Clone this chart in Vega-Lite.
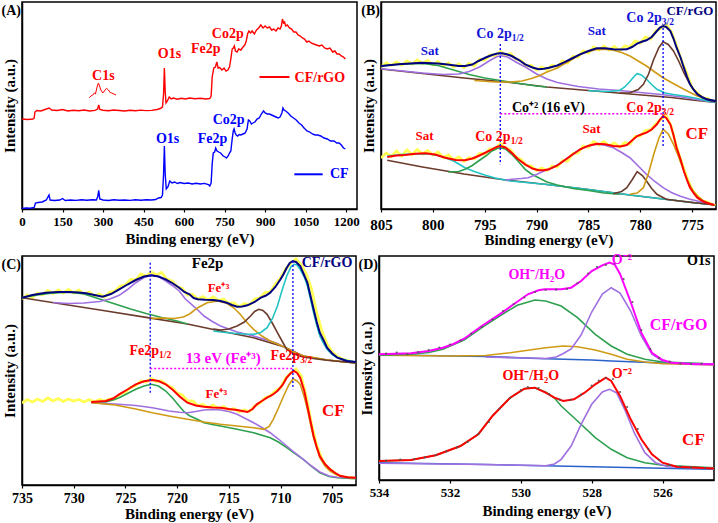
{
"$schema":"https://vega.github.io/schema/vega-lite/v6.json",
"padding":{"left":0,"top":1,"right":0,"bottom":0},
"background":"white",
"config":{
 "view":{"stroke":"#000","strokeWidth":1.5},
 "axis":{"domainColor":"#000","domainWidth":1.5,"tickColor":"#000","tickWidth":1.2,"grid":false,"labelFont":"Liberation Serif","labelFontWeight":"bold","labelColor":"#000","titleFont":"Liberation Serif","titleFontWeight":"bold","titleColor":"#000","labelFlush":false,"labelOverlap":false},
 "text":{"font":"Liberation Serif","fontWeight":"bold"}
},
"resolve":{"scale":{"color":"independent"}},
"spacing":4,
"datasets":{
"A":[
{"x":0,"y":90,"s":"CF/rGO"},{"x":20,"y":89.5,"s":"CF/rGO"},{"x":40,"y":90,"s":"CF/rGO"},{"x":45,"y":91,"s":"CF/rGO"},{"x":48,"y":97,"s":"CF/rGO"},{"x":55,"y":98.5,"s":"CF/rGO"},{"x":70,"y":98,"s":"CF/rGO"},{"x":85,"y":99.5,"s":"CF/rGO"},{"x":100,"y":101,"s":"CF/rGO"},{"x":110,"y":99,"s":"CF/rGO"},{"x":130,"y":98.5,"s":"CF/rGO"},{"x":150,"y":99.5,"s":"CF/rGO"},{"x":170,"y":98,"s":"CF/rGO"},{"x":190,"y":98.7,"s":"CF/rGO"},{"x":210,"y":98.2,"s":"CF/rGO"},{"x":230,"y":99,"s":"CF/rGO"},{"x":250,"y":98,"s":"CF/rGO"},{"x":270,"y":98.6,"s":"CF/rGO"},{"x":280,"y":100,"s":"CF/rGO"},{"x":284,"y":104,"s":"CF/rGO"},{"x":288,"y":99.5,"s":"CF/rGO"},{"x":300,"y":98.8,"s":"CF/rGO"},{"x":320,"y":98.2,"s":"CF/rGO"},{"x":340,"y":99,"s":"CF/rGO"},{"x":360,"y":98.5,"s":"CF/rGO"},{"x":380,"y":98,"s":"CF/rGO"},{"x":400,"y":98.8,"s":"CF/rGO"},{"x":420,"y":98.3,"s":"CF/rGO"},{"x":440,"y":98.9,"s":"CF/rGO"},{"x":460,"y":98.4,"s":"CF/rGO"},{"x":480,"y":98.6,"s":"CF/rGO"},{"x":500,"y":99.5,"s":"CF/rGO"},{"x":512,"y":100.5,"s":"CF/rGO"},{"x":520,"y":102,"s":"CF/rGO"},{"x":524,"y":115,"s":"CF/rGO"},{"x":527,"y":141,"s":"CF/rGO"},{"x":530,"y":118,"s":"CF/rGO"},{"x":533,"y":106,"s":"CF/rGO"},{"x":538,"y":108,"s":"CF/rGO"},{"x":545,"y":112,"s":"CF/rGO"},{"x":552,"y":110,"s":"CF/rGO"},{"x":560,"y":111,"s":"CF/rGO"},{"x":575,"y":109.8,"s":"CF/rGO"},{"x":590,"y":110.8,"s":"CF/rGO"},{"x":605,"y":110,"s":"CF/rGO"},{"x":620,"y":111,"s":"CF/rGO"},{"x":640,"y":110.2,"s":"CF/rGO"},{"x":660,"y":110.8,"s":"CF/rGO"},{"x":680,"y":110,"s":"CF/rGO"},{"x":695,"y":110.5,"s":"CF/rGO"},{"x":700,"y":113,"s":"CF/rGO"},{"x":704,"y":132,"s":"CF/rGO"},{"x":710,"y":141,"s":"CF/rGO"},{"x":716,"y":142,"s":"CF/rGO"},{"x":721,"y":147,"s":"CF/rGO"},{"x":726,"y":141,"s":"CF/rGO"},{"x":732,"y":141.5,"s":"CF/rGO"},{"x":740,"y":139,"s":"CF/rGO"},{"x":748,"y":141,"s":"CF/rGO"},{"x":755,"y":138,"s":"CF/rGO"},{"x":762,"y":139,"s":"CF/rGO"},{"x":768,"y":142,"s":"CF/rGO"},{"x":773,"y":150,"s":"CF/rGO"},{"x":778,"y":160,"s":"CF/rGO"},{"x":782,"y":161,"s":"CF/rGO"},{"x":786,"y":163,"s":"CF/rGO"},{"x":790,"y":158,"s":"CF/rGO"},{"x":796,"y":157,"s":"CF/rGO"},{"x":802,"y":160,"s":"CF/rGO"},{"x":810,"y":159,"s":"CF/rGO"},{"x":818,"y":162,"s":"CF/rGO"},{"x":825,"y":164,"s":"CF/rGO"},{"x":830,"y":168,"s":"CF/rGO"},{"x":835,"y":175,"s":"CF/rGO"},{"x":840,"y":178,"s":"CF/rGO"},{"x":846,"y":176,"s":"CF/rGO"},{"x":852,"y":178,"s":"CF/rGO"},{"x":860,"y":175,"s":"CF/rGO"},{"x":868,"y":179,"s":"CF/rGO"},{"x":876,"y":181,"s":"CF/rGO"},{"x":884,"y":184,"s":"CF/rGO"},{"x":892,"y":181,"s":"CF/rGO"},{"x":900,"y":183,"s":"CF/rGO"},{"x":908,"y":181,"s":"CF/rGO"},{"x":916,"y":182,"s":"CF/rGO"},{"x":924,"y":179,"s":"CF/rGO"},{"x":932,"y":180,"s":"CF/rGO"},{"x":940,"y":178,"s":"CF/rGO"},{"x":948,"y":181,"s":"CF/rGO"},{"x":955,"y":180,"s":"CF/rGO"},{"x":960,"y":183,"s":"CF/rGO"},{"x":964,"y":190,"s":"CF/rGO"},{"x":968,"y":186,"s":"CF/rGO"},{"x":972,"y":187,"s":"CF/rGO"},{"x":976,"y":183,"s":"CF/rGO"},{"x":982,"y":184,"s":"CF/rGO"},{"x":990,"y":181,"s":"CF/rGO"},{"x":998,"y":180,"s":"CF/rGO"},{"x":1006,"y":177,"s":"CF/rGO"},{"x":1014,"y":177,"s":"CF/rGO"},{"x":1022,"y":174,"s":"CF/rGO"},{"x":1030,"y":173,"s":"CF/rGO"},{"x":1038,"y":171,"s":"CF/rGO"},{"x":1046,"y":170,"s":"CF/rGO"},{"x":1054,"y":167,"s":"CF/rGO"},{"x":1062,"y":168,"s":"CF/rGO"},{"x":1070,"y":166,"s":"CF/rGO"},{"x":1080,"y":165,"s":"CF/rGO"},{"x":1090,"y":164,"s":"CF/rGO"},{"x":1100,"y":163,"s":"CF/rGO"},{"x":1110,"y":164,"s":"CF/rGO"},{"x":1120,"y":161,"s":"CF/rGO"},{"x":1130,"y":160,"s":"CF/rGO"},{"x":1140,"y":161,"s":"CF/rGO"},{"x":1150,"y":157,"s":"CF/rGO"},{"x":1158,"y":158,"s":"CF/rGO"},{"x":1166,"y":155,"s":"CF/rGO"},{"x":1174,"y":155,"s":"CF/rGO"},{"x":1182,"y":153,"s":"CF/rGO"},{"x":1190,"y":152,"s":"CF/rGO"},{"x":1197,"y":150,"s":"CF/rGO"},
{"x":0,"y":0.5,"s":"CF"},{"x":15,"y":1,"s":"CF"},{"x":30,"y":0.8,"s":"CF"},{"x":45,"y":1.5,"s":"CF"},{"x":50,"y":6,"s":"CF"},{"x":60,"y":6.5,"s":"CF"},{"x":75,"y":7,"s":"CF"},{"x":90,"y":9,"s":"CF"},{"x":100,"y":14,"s":"CF"},{"x":104,"y":9,"s":"CF"},{"x":120,"y":8.5,"s":"CF"},{"x":140,"y":9,"s":"CF"},{"x":150,"y":10.5,"s":"CF"},{"x":160,"y":8.5,"s":"CF"},{"x":180,"y":9,"s":"CF"},{"x":200,"y":8.6,"s":"CF"},{"x":220,"y":9.2,"s":"CF"},{"x":240,"y":8.7,"s":"CF"},{"x":260,"y":9.2,"s":"CF"},{"x":275,"y":9,"s":"CF"},{"x":280,"y":12,"s":"CF"},{"x":284,"y":18.7,"s":"CF"},{"x":288,"y":10,"s":"CF"},{"x":300,"y":9,"s":"CF"},{"x":320,"y":8.5,"s":"CF"},{"x":340,"y":9.3,"s":"CF"},{"x":360,"y":8.7,"s":"CF"},{"x":380,"y":9,"s":"CF"},{"x":400,"y":8.6,"s":"CF"},{"x":420,"y":9.2,"s":"CF"},{"x":440,"y":8.8,"s":"CF"},{"x":460,"y":9.3,"s":"CF"},{"x":480,"y":9,"s":"CF"},{"x":495,"y":9.5,"s":"CF"},{"x":505,"y":11,"s":"CF"},{"x":515,"y":11.5,"s":"CF"},{"x":520,"y":14,"s":"CF"},{"x":524,"y":35,"s":"CF"},{"x":527,"y":63,"s":"CF"},{"x":530,"y":35,"s":"CF"},{"x":534,"y":20,"s":"CF"},{"x":540,"y":22,"s":"CF"},{"x":547,"y":28,"s":"CF"},{"x":555,"y":26,"s":"CF"},{"x":565,"y":27,"s":"CF"},{"x":575,"y":25.5,"s":"CF"},{"x":585,"y":26.5,"s":"CF"},{"x":600,"y":25.5,"s":"CF"},{"x":615,"y":26,"s":"CF"},{"x":630,"y":25,"s":"CF"},{"x":645,"y":25.8,"s":"CF"},{"x":660,"y":25,"s":"CF"},{"x":675,"y":25.6,"s":"CF"},{"x":690,"y":24.5,"s":"CF"},{"x":695,"y":23,"s":"CF"},{"x":700,"y":26,"s":"CF"},{"x":704,"y":45,"s":"CF"},{"x":708,"y":56,"s":"CF"},{"x":713,"y":57,"s":"CF"},{"x":717,"y":61,"s":"CF"},{"x":722,"y":58,"s":"CF"},{"x":728,"y":57,"s":"CF"},{"x":735,"y":56,"s":"CF"},{"x":745,"y":53,"s":"CF"},{"x":752,"y":52,"s":"CF"},{"x":757,"y":51,"s":"CF"},{"x":763,"y":53,"s":"CF"},{"x":768,"y":56,"s":"CF"},{"x":773,"y":58,"s":"CF"},{"x":778,"y":70,"s":"CF"},{"x":782,"y":78,"s":"CF"},{"x":785,"y":80,"s":"CF"},{"x":789,"y":76,"s":"CF"},{"x":793,"y":74,"s":"CF"},{"x":798,"y":73,"s":"CF"},{"x":804,"y":74.5,"s":"CF"},{"x":810,"y":74,"s":"CF"},{"x":818,"y":75,"s":"CF"},{"x":826,"y":76,"s":"CF"},{"x":833,"y":80,"s":"CF"},{"x":838,"y":89,"s":"CF"},{"x":843,"y":88,"s":"CF"},{"x":849,"y":85,"s":"CF"},{"x":855,"y":86,"s":"CF"},{"x":862,"y":87,"s":"CF"},{"x":870,"y":90,"s":"CF"},{"x":878,"y":91,"s":"CF"},{"x":886,"y":95,"s":"CF"},{"x":894,"y":98,"s":"CF"},{"x":900,"y":96,"s":"CF"},{"x":908,"y":95,"s":"CF"},{"x":916,"y":95,"s":"CF"},{"x":924,"y":94,"s":"CF"},{"x":932,"y":93,"s":"CF"},{"x":940,"y":92,"s":"CF"},{"x":948,"y":91,"s":"CF"},{"x":955,"y":92,"s":"CF"},{"x":962,"y":96,"s":"CF"},{"x":966,"y":101,"s":"CF"},{"x":970,"y":99,"s":"CF"},{"x":976,"y":98,"s":"CF"},{"x":985,"y":96,"s":"CF"},{"x":995,"y":93,"s":"CF"},{"x":1005,"y":91,"s":"CF"},{"x":1015,"y":89,"s":"CF"},{"x":1025,"y":86,"s":"CF"},{"x":1035,"y":84,"s":"CF"},{"x":1044,"y":81,"s":"CF"},{"x":1055,"y":78,"s":"CF"},{"x":1065,"y":77,"s":"CF"},{"x":1075,"y":75,"s":"CF"},{"x":1085,"y":74,"s":"CF"},{"x":1095,"y":74,"s":"CF"},{"x":1106,"y":73,"s":"CF"},{"x":1118,"y":71,"s":"CF"},{"x":1130,"y":70,"s":"CF"},{"x":1142,"y":68,"s":"CF"},{"x":1155,"y":68,"s":"CF"},{"x":1165,"y":66,"s":"CF"},{"x":1174,"y":66,"s":"CF"},{"x":1182,"y":64,"s":"CF"},{"x":1190,"y":61,"s":"CF"},{"x":1197,"y":60,"s":"CF"},
{"x":249,"y":111.3,"s":"C1s"},{"x":255,"y":113,"s":"C1s"},{"x":262,"y":114,"s":"C1s"},{"x":268,"y":116,"s":"C1s"},{"x":272,"y":115,"s":"C1s"},{"x":276,"y":120,"s":"C1s"},{"x":280,"y":124,"s":"C1s"},{"x":283,"y":126,"s":"C1s"},{"x":287,"y":123,"s":"C1s"},{"x":292,"y":119,"s":"C1s"},{"x":299,"y":116,"s":"C1s"},{"x":305,"y":118,"s":"C1s"},{"x":313,"y":120.7,"s":"C1s"},{"x":320,"y":119,"s":"C1s"},{"x":326,"y":116.5,"s":"C1s"},{"x":332,"y":116,"s":"C1s"},{"x":340,"y":115,"s":"C1s"},{"x":348,"y":114,"s":"C1s"},
{"x":879,"y":132,"s":"legR"},{"x":990,"y":132,"s":"legR"},{"x":1008,"y":34.7,"s":"legB"},{"x":1113,"y":34.7,"s":"legB"}
],
"B":[
{"x":805,"y":140,"s":"rGO bg"},{"x":801,"y":135.5,"s":"rGO bg"},{"x":797,"y":131,"s":"rGO bg"},{"x":793,"y":127,"s":"rGO bg"},{"x":789,"y":122,"s":"rGO bg"},{"x":785,"y":118.5,"s":"rGO bg"},{"x":781,"y":115,"s":"rGO bg"},{"x":777,"y":111.5,"s":"rGO bg"},{"x":775,"y":109,"s":"rGO bg"},{"x":772.7,"y":106.5,"s":"rGO bg"},
{"x":805,"y":143,"s":"rGO sat1"},{"x":803.5,"y":144.5,"s":"rGO sat1"},{"x":802,"y":145.3,"s":"rGO sat1"},{"x":801,"y":145.5,"s":"rGO sat1"},{"x":799.5,"y":143.5,"s":"rGO sat1"},{"x":798,"y":139,"s":"rGO sat1"},{"x":796.5,"y":134.5,"s":"rGO sat1"},{"x":795,"y":131,"s":"rGO sat1"},{"x":793.5,"y":128.5,"s":"rGO sat1"},{"x":792,"y":126,"s":"rGO sat1"},{"x":790,"y":123,"s":"rGO sat1"},{"x":789,"y":122,"s":"rGO sat1"},
{"x":805,"y":140.3,"s":"rGO p12"},{"x":801,"y":136,"s":"rGO p12"},{"x":799,"y":134.5,"s":"rGO p12"},{"x":797.5,"y":135,"s":"rGO p12"},{"x":796.5,"y":137.5,"s":"rGO p12"},{"x":795.5,"y":142,"s":"rGO p12"},{"x":794.5,"y":148.5,"s":"rGO p12"},{"x":793.8,"y":152.5,"s":"rGO p12"},{"x":793.4,"y":153.2,"s":"rGO p12"},{"x":792.8,"y":152,"s":"rGO p12"},{"x":792,"y":147,"s":"rGO p12"},{"x":791,"y":141.5,"s":"rGO p12"},{"x":790,"y":135,"s":"rGO p12"},{"x":789,"y":130,"s":"rGO p12"},{"x":788,"y":126.5,"s":"rGO p12"},{"x":786,"y":122.5,"s":"rGO p12"},{"x":784,"y":120,"s":"rGO p12"},{"x":782,"y":118.5,"s":"rGO p12"},{"x":780,"y":116.5,"s":"rGO p12"},{"x":778,"y":114.5,"s":"rGO p12"},{"x":776,"y":112,"s":"rGO p12"},{"x":774,"y":108.5,"s":"rGO p12"},{"x":772.7,"y":106.5,"s":"rGO p12"},
{"x":796,"y":128.5,"s":"rGO sat2"},{"x":794,"y":127,"s":"rGO sat2"},{"x":792.5,"y":127,"s":"rGO sat2"},{"x":791.4,"y":128,"s":"rGO sat2"},{"x":790.5,"y":130.5,"s":"rGO sat2"},{"x":789.8,"y":133,"s":"rGO sat2"},{"x":789,"y":137,"s":"rGO sat2"},{"x":788,"y":141,"s":"rGO sat2"},{"x":787.4,"y":144.7,"s":"rGO sat2"},{"x":786.5,"y":150,"s":"rGO sat2"},{"x":785.8,"y":154.7,"s":"rGO sat2"},{"x":785,"y":157.5,"s":"rGO sat2"},{"x":784.2,"y":159.5,"s":"rGO sat2"},{"x":783.4,"y":159.7,"s":"rGO sat2"},{"x":782.6,"y":158.7,"s":"rGO sat2"},{"x":781.8,"y":156.5,"s":"rGO sat2"},{"x":781,"y":153,"s":"rGO sat2"},{"x":780.2,"y":148,"s":"rGO sat2"},{"x":779.4,"y":143,"s":"rGO sat2"},{"x":778.6,"y":137,"s":"rGO sat2"},{"x":777.8,"y":131.3,"s":"rGO sat2"},{"x":777,"y":126.5,"s":"rGO sat2"},{"x":776.2,"y":122,"s":"rGO sat2"},{"x":775.3,"y":117,"s":"rGO sat2"},{"x":774.5,"y":113,"s":"rGO sat2"},{"x":773.6,"y":110,"s":"rGO sat2"},{"x":772.7,"y":108,"s":"rGO sat2"},
{"x":785,"y":118.3,"s":"rGO c780"},{"x":783,"y":117.5,"s":"rGO c780"},{"x":782,"y":118.5,"s":"rGO c780"},{"x":781.5,"y":122,"s":"rGO c780"},{"x":781,"y":127.5,"s":"rGO c780"},{"x":780.6,"y":132.5,"s":"rGO c780"},{"x":780.3,"y":135.3,"s":"rGO c780"},{"x":779.9,"y":134,"s":"rGO c780"},{"x":779.4,"y":129.7,"s":"rGO c780"},{"x":778.9,"y":124.5,"s":"rGO c780"},{"x":778.4,"y":119.7,"s":"rGO c780"},{"x":777.6,"y":116,"s":"rGO c780"},{"x":776.8,"y":114.5,"s":"rGO c780"},{"x":775.5,"y":112.5,"s":"rGO c780"},{"x":774.5,"y":110.5,"s":"rGO c780"},{"x":773.5,"y":108,"s":"rGO c780"},{"x":772.7,"y":106.5,"s":"rGO c780"},
{"x":782,"y":116,"s":"rGO p32"},{"x":781,"y":116.3,"s":"rGO p32"},{"x":780.2,"y":119.5,"s":"rGO p32"},{"x":779.7,"y":124.7,"s":"rGO p32"},{"x":779.2,"y":135,"s":"rGO p32"},{"x":778.7,"y":149.7,"s":"rGO p32"},{"x":778.2,"y":161.5,"s":"rGO p32"},{"x":777.8,"y":167.3,"s":"rGO p32"},{"x":777.3,"y":164.5,"s":"rGO p32"},{"x":776.8,"y":158,"s":"rGO p32"},{"x":776.3,"y":148,"s":"rGO p32"},{"x":775.8,"y":136.3,"s":"rGO p32"},{"x":775.3,"y":126.5,"s":"rGO p32"},{"x":774.9,"y":119.7,"s":"rGO p32"},{"x":774.4,"y":114.5,"s":"rGO p32"},{"x":773.9,"y":111.3,"s":"rGO p32"},{"x":773.3,"y":108.5,"s":"rGO p32"},{"x":772.7,"y":107,"s":"rGO p32"},
{"x":805,"y":143,"s":"rGO fit"},{"x":803.3,"y":144.7,"s":"rGO fit"},{"x":801.1,"y":146.3,"s":"rGO fit"},{"x":799.5,"y":145.5,"s":"rGO fit"},{"x":798.8,"y":144.7,"s":"rGO fit"},{"x":797.5,"y":143,"s":"rGO fit"},{"x":796.9,"y":143,"s":"rGO fit"},{"x":796.2,"y":144.5,"s":"rGO fit"},{"x":795.6,"y":148,"s":"rGO fit"},{"x":794.9,"y":151.5,"s":"rGO fit"},{"x":794.3,"y":154,"s":"rGO fit"},{"x":793.8,"y":155.5,"s":"rGO fit"},{"x":793.3,"y":155.7,"s":"rGO fit"},{"x":792.8,"y":154.5,"s":"rGO fit"},{"x":792.4,"y":153,"s":"rGO fit"},{"x":791.7,"y":149,"s":"rGO fit"},{"x":791.1,"y":144.7,"s":"rGO fit"},{"x":790.4,"y":141.5,"s":"rGO fit"},{"x":789.8,"y":139.7,"s":"rGO fit"},{"x":789.3,"y":140.2,"s":"rGO fit"},{"x":788.8,"y":141.3,"s":"rGO fit"},{"x":788,"y":143.5,"s":"rGO fit"},{"x":787.4,"y":146.3,"s":"rGO fit"},{"x":786.6,"y":150.5,"s":"rGO fit"},{"x":785.8,"y":154.7,"s":"rGO fit"},{"x":785,"y":158,"s":"rGO fit"},{"x":784.2,"y":160.7,"s":"rGO fit"},{"x":783.4,"y":160.8,"s":"rGO fit"},{"x":782.6,"y":159.7,"s":"rGO fit"},{"x":781.9,"y":159.5,"s":"rGO fit"},{"x":781.3,"y":159.7,"s":"rGO fit"},{"x":780.8,"y":162,"s":"rGO fit"},{"x":780.3,"y":165.3,"s":"rGO fit"},{"x":779.8,"y":167.5,"s":"rGO fit"},{"x":779.4,"y":168.7,"s":"rGO fit"},{"x":778.9,"y":172,"s":"rGO fit"},{"x":778.4,"y":178,"s":"rGO fit"},{"x":778.1,"y":181.5,"s":"rGO fit"},{"x":777.8,"y":183,"s":"rGO fit"},{"x":777.5,"y":182,"s":"rGO fit"},{"x":777.1,"y":178,"s":"rGO fit"},{"x":776.8,"y":170.5,"s":"rGO fit"},{"x":776.5,"y":161.3,"s":"rGO fit"},{"x":776.1,"y":151,"s":"rGO fit"},{"x":775.8,"y":141.3,"s":"rGO fit"},{"x":775.5,"y":132.5,"s":"rGO fit"},{"x":775.2,"y":124.7,"s":"rGO fit"},{"x":774.8,"y":118.5,"s":"rGO fit"},{"x":774.5,"y":114.7,"s":"rGO fit"},{"x":774,"y":111.5,"s":"rGO fit"},{"x":773.6,"y":109.7,"s":"rGO fit"},{"x":772.7,"y":108,"s":"rGO fit"},
{"x":805,"y":142,"s":"rGO raw"},{"x":804.5,"y":146,"s":"rGO raw"},{"x":804,"y":143.5,"s":"rGO raw"},{"x":803.5,"y":147,"s":"rGO raw"},{"x":803,"y":144,"s":"rGO raw"},{"x":802.5,"y":148,"s":"rGO raw"},{"x":802,"y":145,"s":"rGO raw"},{"x":801.5,"y":149,"s":"rGO raw"},{"x":801,"y":145.5,"s":"rGO raw"},{"x":800.5,"y":148.5,"s":"rGO raw"},{"x":800,"y":144,"s":"rGO raw"},{"x":799.5,"y":147.5,"s":"rGO raw"},{"x":799,"y":143,"s":"rGO raw"},{"x":798.5,"y":146,"s":"rGO raw"},{"x":798,"y":142,"s":"rGO raw"},{"x":797.5,"y":145,"s":"rGO raw"},{"x":797,"y":141.5,"s":"rGO raw"},{"x":796.5,"y":145.5,"s":"rGO raw"},{"x":796,"y":143,"s":"rGO raw"},{"x":795.5,"y":149.5,"s":"rGO raw"},{"x":795,"y":149,"s":"rGO raw"},{"x":794.5,"y":154,"s":"rGO raw"},{"x":794,"y":153.5,"s":"rGO raw"},{"x":793.5,"y":157.5,"s":"rGO raw"},{"x":793,"y":154,"s":"rGO raw"},{"x":792.5,"y":155.5,"s":"rGO raw"},{"x":792,"y":150,"s":"rGO raw"},{"x":791.5,"y":148.5,"s":"rGO raw"},{"x":791,"y":143,"s":"rGO raw"},{"x":790.5,"y":143.5,"s":"rGO raw"},{"x":790,"y":139,"s":"rGO raw"},{"x":789.5,"y":142,"s":"rGO raw"},{"x":789,"y":139.5,"s":"rGO raw"},{"x":788.5,"y":144,"s":"rGO raw"},{"x":788,"y":142,"s":"rGO raw"},{"x":787.5,"y":148,"s":"rGO raw"},{"x":787,"y":146,"s":"rGO raw"},{"x":786.5,"y":152.5,"s":"rGO raw"},{"x":786,"y":152,"s":"rGO raw"},{"x":785.5,"y":158,"s":"rGO raw"},{"x":785,"y":156,"s":"rGO raw"},{"x":784.5,"y":162,"s":"rGO raw"},{"x":784,"y":159,"s":"rGO raw"},{"x":783.5,"y":163,"s":"rGO raw"},{"x":783,"y":159,"s":"rGO raw"},{"x":782.5,"y":162.5,"s":"rGO raw"},{"x":782,"y":158.5,"s":"rGO raw"},{"x":781.5,"y":163,"s":"rGO raw"},{"x":781,"y":162,"s":"rGO raw"},{"x":780.5,"y":168,"s":"rGO raw"},{"x":780,"y":166,"s":"rGO raw"},{"x":779.5,"y":172,"s":"rGO raw"},{"x":779,"y":170,"s":"rGO raw"},{"x":778.5,"y":178,"s":"rGO raw"},{"x":778,"y":181,"s":"rGO raw"},{"x":777.5,"y":184.5,"s":"rGO raw"},{"x":777,"y":177,"s":"rGO raw"},{"x":776.5,"y":163,"s":"rGO raw"},{"x":776,"y":148,"s":"rGO raw"},{"x":775.5,"y":135,"s":"rGO raw"},{"x":775,"y":121,"s":"rGO raw"},{"x":774.5,"y":116,"s":"rGO raw"},{"x":774,"y":111,"s":"rGO raw"},{"x":773.5,"y":110.5,"s":"rGO raw"},{"x":773,"y":107.5,"s":"rGO raw"},
{"x":804.4,"y":48.7,"s":"CF bg"},{"x":801,"y":42,"s":"CF bg"},{"x":797,"y":35,"s":"CF bg"},{"x":793,"y":29,"s":"CF bg"},{"x":789,"y":24.5,"s":"CF bg"},{"x":785,"y":19.5,"s":"CF bg"},{"x":781,"y":14,"s":"CF bg"},{"x":777,"y":9,"s":"CF bg"},{"x":775,"y":6.5,"s":"CF bg"},{"x":772.7,"y":4,"s":"CF bg"},
{"x":804.4,"y":53,"s":"CF sat1"},{"x":803,"y":54.5,"s":"CF sat1"},{"x":802,"y":55,"s":"CF sat1"},{"x":801,"y":55.2,"s":"CF sat1"},{"x":800.4,"y":55,"s":"CF sat1"},{"x":799.5,"y":53.5,"s":"CF sat1"},{"x":798.8,"y":51.3,"s":"CF sat1"},{"x":798,"y":48,"s":"CF sat1"},{"x":797.5,"y":45,"s":"CF sat1"},{"x":796.9,"y":41.3,"s":"CF sat1"},{"x":796,"y":37.5,"s":"CF sat1"},{"x":795,"y":34,"s":"CF sat1"},{"x":794,"y":31,"s":"CF sat1"},{"x":792.5,"y":28,"s":"CF sat1"},{"x":791,"y":26.5,"s":"CF sat1"},{"x":789,"y":24.5,"s":"CF sat1"},{"x":785,"y":19.5,"s":"CF sat1"},{"x":781,"y":14,"s":"CF sat1"},{"x":777,"y":9,"s":"CF sat1"},{"x":775,"y":6.5,"s":"CF sat1"},{"x":772.7,"y":4,"s":"CF sat1"},
{"x":798.5,"y":37,"s":"CF p12"},{"x":797.5,"y":37.5,"s":"CF p12"},{"x":796.9,"y":39.7,"s":"CF p12"},{"x":796.2,"y":43.5,"s":"CF p12"},{"x":795.6,"y":48,"s":"CF p12"},{"x":794.9,"y":53,"s":"CF p12"},{"x":794.3,"y":58,"s":"CF p12"},{"x":793.8,"y":60.5,"s":"CF p12"},{"x":793.5,"y":61.3,"s":"CF p12"},{"x":793,"y":60,"s":"CF p12"},{"x":792.4,"y":54.7,"s":"CF p12"},{"x":791.8,"y":48,"s":"CF p12"},{"x":791.1,"y":39.7,"s":"CF p12"},{"x":790.5,"y":35,"s":"CF p12"},{"x":789.8,"y":31.3,"s":"CF p12"},{"x":789,"y":27,"s":"CF p12"},{"x":788,"y":24,"s":"CF p12"},{"x":786.5,"y":20.5,"s":"CF p12"},{"x":785,"y":18.5,"s":"CF p12"},{"x":783.5,"y":16,"s":"CF p12"},{"x":782,"y":14.8,"s":"CF p12"},
{"x":793,"y":29,"s":"CF sat2"},{"x":792.4,"y":29.7,"s":"CF sat2"},{"x":791.5,"y":30.5,"s":"CF sat2"},{"x":790.8,"y":31.3,"s":"CF sat2"},{"x":790,"y":34.5,"s":"CF sat2"},{"x":789.3,"y":38,"s":"CF sat2"},{"x":788.8,"y":39.7,"s":"CF sat2"},{"x":788,"y":44,"s":"CF sat2"},{"x":787.4,"y":48,"s":"CF sat2"},{"x":786.6,"y":54,"s":"CF sat2"},{"x":785.8,"y":59.7,"s":"CF sat2"},{"x":785,"y":63,"s":"CF sat2"},{"x":784.2,"y":64.7,"s":"CF sat2"},{"x":783.4,"y":63.8,"s":"CF sat2"},{"x":782.6,"y":61.3,"s":"CF sat2"},{"x":781.8,"y":56.5,"s":"CF sat2"},{"x":781,"y":51.3,"s":"CF sat2"},{"x":780.2,"y":43,"s":"CF sat2"},{"x":779.4,"y":34.7,"s":"CF sat2"},{"x":778.6,"y":27.5,"s":"CF sat2"},{"x":777.8,"y":21.3,"s":"CF sat2"},{"x":777,"y":16.5,"s":"CF sat2"},{"x":776.2,"y":13,"s":"CF sat2"},{"x":775.3,"y":10,"s":"CF sat2"},{"x":774.5,"y":8,"s":"CF sat2"},{"x":773.6,"y":5.5,"s":"CF sat2"},{"x":772.7,"y":4,"s":"CF sat2"},
{"x":782.6,"y":15.3,"s":"CF c780"},{"x":781.8,"y":17.5,"s":"CF c780"},{"x":781.3,"y":21.3,"s":"CF c780"},{"x":780.8,"y":29,"s":"CF c780"},{"x":780.3,"y":37.3,"s":"CF c780"},{"x":779.8,"y":33.5,"s":"CF c780"},{"x":779.4,"y":28,"s":"CF c780"},{"x":778.9,"y":20.5,"s":"CF c780"},{"x":778.4,"y":14.7,"s":"CF c780"},{"x":777.5,"y":9.7,"s":"CF c780"},{"x":776.2,"y":8,"s":"CF c780"},{"x":775,"y":6.5,"s":"CF c780"},{"x":772.7,"y":4,"s":"CF c780"},
{"x":781,"y":14.7,"s":"CF p32"},{"x":780.3,"y":16,"s":"CF p32"},{"x":779.7,"y":21.3,"s":"CF p32"},{"x":779.2,"y":36,"s":"CF p32"},{"x":778.7,"y":54.7,"s":"CF p32"},{"x":778.2,"y":71,"s":"CF p32"},{"x":777.8,"y":79.7,"s":"CF p32"},{"x":777.3,"y":75,"s":"CF p32"},{"x":776.8,"y":64.7,"s":"CF p32"},{"x":776.3,"y":52,"s":"CF p32"},{"x":775.8,"y":38,"s":"CF p32"},{"x":775.3,"y":25,"s":"CF p32"},{"x":774.9,"y":18,"s":"CF p32"},{"x":774.4,"y":12,"s":"CF p32"},{"x":773.9,"y":8,"s":"CF p32"},{"x":773.3,"y":5.5,"s":"CF p32"},{"x":772.7,"y":4,"s":"CF p32"},
{"x":804.4,"y":52,"s":"CF fit"},{"x":803.5,"y":53.5,"s":"CF fit"},{"x":802.7,"y":54,"s":"CF fit"},{"x":801.7,"y":55.2,"s":"CF fit"},{"x":800.7,"y":55.7,"s":"CF fit"},{"x":799.8,"y":54.5,"s":"CF fit"},{"x":798.8,"y":51.3,"s":"CF fit"},{"x":797.8,"y":49,"s":"CF fit"},{"x":796.9,"y":48.7,"s":"CF fit"},{"x":796.2,"y":50.5,"s":"CF fit"},{"x":795.6,"y":53,"s":"CF fit"},{"x":794.9,"y":56.5,"s":"CF fit"},{"x":794.3,"y":59.7,"s":"CF fit"},{"x":793.8,"y":62.3,"s":"CF fit"},{"x":793.5,"y":63,"s":"CF fit"},{"x":793,"y":61.5,"s":"CF fit"},{"x":792.4,"y":56.3,"s":"CF fit"},{"x":791.8,"y":50,"s":"CF fit"},{"x":791.1,"y":44.7,"s":"CF fit"},{"x":790.4,"y":40.5,"s":"CF fit"},{"x":789.8,"y":38.7,"s":"CF fit"},{"x":789.3,"y":38.8,"s":"CF fit"},{"x":788.8,"y":39.7,"s":"CF fit"},{"x":788,"y":43.5,"s":"CF fit"},{"x":787.4,"y":48,"s":"CF fit"},{"x":786.6,"y":54,"s":"CF fit"},{"x":785.8,"y":59.7,"s":"CF fit"},{"x":785,"y":63.3,"s":"CF fit"},{"x":784.2,"y":65.3,"s":"CF fit"},{"x":783.4,"y":64.8,"s":"CF fit"},{"x":782.6,"y":63,"s":"CF fit"},{"x":781.9,"y":62.5,"s":"CF fit"},{"x":781.3,"y":64,"s":"CF fit"},{"x":780.8,"y":68.5,"s":"CF fit"},{"x":780.3,"y":73,"s":"CF fit"},{"x":779.8,"y":75,"s":"CF fit"},{"x":779.4,"y":76.3,"s":"CF fit"},{"x":778.9,"y":79.5,"s":"CF fit"},{"x":778.4,"y":84.7,"s":"CF fit"},{"x":778.1,"y":89.5,"s":"CF fit"},{"x":777.8,"y":93,"s":"CF fit"},{"x":777.5,"y":91,"s":"CF fit"},{"x":777.1,"y":84.7,"s":"CF fit"},{"x":776.8,"y":74,"s":"CF fit"},{"x":776.5,"y":61.3,"s":"CF fit"},{"x":776.1,"y":49,"s":"CF fit"},{"x":775.8,"y":38,"s":"CF fit"},{"x":775.5,"y":29,"s":"CF fit"},{"x":775.2,"y":21.3,"s":"CF fit"},{"x":774.8,"y":15,"s":"CF fit"},{"x":774.5,"y":11.3,"s":"CF fit"},{"x":774,"y":8,"s":"CF fit"},{"x":773.6,"y":6.3,"s":"CF fit"},{"x":772.9,"y":4,"s":"CF fit"},
{"x":805,"y":51,"s":"CF raw"},{"x":804.5,"y":56,"s":"CF raw"},{"x":804,"y":52.5,"s":"CF raw"},{"x":803.5,"y":58,"s":"CF raw"},{"x":803,"y":53,"s":"CF raw"},{"x":802.5,"y":59,"s":"CF raw"},{"x":802,"y":54.5,"s":"CF raw"},{"x":801.5,"y":59.5,"s":"CF raw"},{"x":801,"y":55,"s":"CF raw"},{"x":800.5,"y":58.5,"s":"CF raw"},{"x":800,"y":54,"s":"CF raw"},{"x":799.5,"y":57,"s":"CF raw"},{"x":799,"y":51.5,"s":"CF raw"},{"x":798.5,"y":54,"s":"CF raw"},{"x":798,"y":49,"s":"CF raw"},{"x":797.5,"y":52,"s":"CF raw"},{"x":797,"y":47.5,"s":"CF raw"},{"x":796.5,"y":51.5,"s":"CF raw"},{"x":796,"y":50,"s":"CF raw"},{"x":795.5,"y":55.5,"s":"CF raw"},{"x":795,"y":55,"s":"CF raw"},{"x":794.5,"y":60,"s":"CF raw"},{"x":794,"y":60,"s":"CF raw"},{"x":793.5,"y":65.5,"s":"CF raw"},{"x":793,"y":61,"s":"CF raw"},{"x":792.5,"y":59,"s":"CF raw"},{"x":792,"y":52,"s":"CF raw"},{"x":791.5,"y":49.5,"s":"CF raw"},{"x":791,"y":43.5,"s":"CF raw"},{"x":790.5,"y":43,"s":"CF raw"},{"x":790,"y":38.5,"s":"CF raw"},{"x":789.5,"y":41,"s":"CF raw"},{"x":789,"y":38.5,"s":"CF raw"},{"x":788.5,"y":43,"s":"CF raw"},{"x":788,"y":42,"s":"CF raw"},{"x":787.5,"y":48.5,"s":"CF raw"},{"x":787,"y":48,"s":"CF raw"},{"x":786.5,"y":55.5,"s":"CF raw"},{"x":786,"y":56,"s":"CF raw"},{"x":785.5,"y":63,"s":"CF raw"},{"x":785,"y":61.5,"s":"CF raw"},{"x":784.5,"y":67.5,"s":"CF raw"},{"x":784,"y":64,"s":"CF raw"},{"x":783.5,"y":67.5,"s":"CF raw"},{"x":783,"y":63,"s":"CF raw"},{"x":782.5,"y":66,"s":"CF raw"},{"x":782,"y":62,"s":"CF raw"},{"x":781.5,"y":66.5,"s":"CF raw"},{"x":781,"y":65,"s":"CF raw"},{"x":780.5,"y":72.5,"s":"CF raw"},{"x":780,"y":73,"s":"CF raw"},{"x":779.5,"y":78.5,"s":"CF raw"},{"x":779,"y":79,"s":"CF raw"},{"x":778.5,"y":85,"s":"CF raw"},{"x":778,"y":90,"s":"CF raw"},{"x":777.5,"y":93.5,"s":"CF raw"},{"x":777,"y":82,"s":"CF raw"},{"x":776.5,"y":62,"s":"CF raw"},{"x":776,"y":46,"s":"CF raw"},{"x":775.5,"y":31.5,"s":"CF raw"},{"x":775,"y":19,"s":"CF raw"},{"x":774.5,"y":13,"s":"CF raw"},{"x":774,"y":8,"s":"CF raw"},{"x":773.5,"y":7,"s":"CF raw"},{"x":773,"y":4,"s":"CF raw"}
],
"C":[
{"x":735,"y":187.3,"s":"rGO bg"},{"x":731,"y":180.7,"s":"rGO bg"},{"x":727,"y":174.2,"s":"rGO bg"},{"x":723,"y":167.6,"s":"rGO bg"},{"x":719,"y":161,"s":"rGO bg"},{"x":715.8,"y":154,"s":"rGO bg"},{"x":712.6,"y":147.3,"s":"rGO bg"},{"x":709.7,"y":138.3,"s":"rGO bg"},{"x":707.8,"y":129,"s":"rGO bg"},{"x":705.5,"y":125,"s":"rGO bg"},{"x":702.7,"y":122,"s":"rGO bg"},
{"x":735,"y":187.3,"s":"rGO sat"},{"x":733.5,"y":190,"s":"rGO sat"},{"x":732,"y":192,"s":"rGO sat"},{"x":730.4,"y":192.8,"s":"rGO sat"},{"x":729,"y":191,"s":"rGO sat"},{"x":727.5,"y":186,"s":"rGO sat"},{"x":726,"y":181,"s":"rGO sat"},{"x":724.5,"y":176,"s":"rGO sat"},{"x":723,"y":171.5,"s":"rGO sat"},{"x":721.5,"y":167.5,"s":"rGO sat"},{"x":720,"y":164,"s":"rGO sat"},{"x":719,"y":161,"s":"rGO sat"},
{"x":732,"y":182.5,"s":"rGO p12"},{"x":730.5,"y":181.5,"s":"rGO p12"},{"x":729,"y":182,"s":"rGO p12"},{"x":727.5,"y":183.5,"s":"rGO p12"},{"x":726.5,"y":186,"s":"rGO p12"},{"x":725.6,"y":189.7,"s":"rGO p12"},{"x":724.8,"y":195.5,"s":"rGO p12"},{"x":724,"y":202.3,"s":"rGO p12"},{"x":723.2,"y":207.5,"s":"rGO p12"},{"x":722.5,"y":209.7,"s":"rGO p12"},{"x":721.8,"y":208.5,"s":"rGO p12"},{"x":721.1,"y":204,"s":"rGO p12"},{"x":720.4,"y":199,"s":"rGO p12"},{"x":719.8,"y":194,"s":"rGO p12"},{"x":719.2,"y":186,"s":"rGO p12"},{"x":718.8,"y":182.3,"s":"rGO p12"},{"x":718,"y":175,"s":"rGO p12"},{"x":717.4,"y":169,"s":"rGO p12"},{"x":716.6,"y":163.5,"s":"rGO p12"},{"x":715.8,"y":159,"s":"rGO p12"},{"x":715,"y":156,"s":"rGO p12"},{"x":714.2,"y":153,"s":"rGO p12"},{"x":713.4,"y":151,"s":"rGO p12"},{"x":712.6,"y":149,"s":"rGO p12"},{"x":711.8,"y":146.5,"s":"rGO p12"},{"x":711,"y":144,"s":"rGO p12"},{"x":710.3,"y":141.5,"s":"rGO p12"},{"x":709.7,"y":138.3,"s":"rGO p12"},
{"x":722.5,"y":166.5,"s":"rGO fe3"},{"x":721.4,"y":167,"s":"rGO fe3"},{"x":720.3,"y":166.5,"s":"rGO fe3"},{"x":719.4,"y":168,"s":"rGO fe3"},{"x":718.8,"y":171,"s":"rGO fe3"},{"x":718,"y":177.3,"s":"rGO fe3"},{"x":717.1,"y":182.3,"s":"rGO fe3"},{"x":716.1,"y":184,"s":"rGO fe3"},{"x":715.2,"y":181.7,"s":"rGO fe3"},{"x":714.5,"y":177,"s":"rGO fe3"},{"x":713.9,"y":170.7,"s":"rGO fe3"},{"x":713.2,"y":162,"s":"rGO fe3"},{"x":712.6,"y":155.7,"s":"rGO fe3"},{"x":711.8,"y":149,"s":"rGO fe3"},{"x":711,"y":144,"s":"rGO fe3"},{"x":710.3,"y":141,"s":"rGO fe3"},{"x":709.7,"y":138.3,"s":"rGO fe3"},{"x":708.7,"y":133,"s":"rGO fe3"},{"x":707.8,"y":129,"s":"rGO fe3"},{"x":706.5,"y":127,"s":"rGO fe3"},{"x":705.5,"y":125,"s":"rGO fe3"},{"x":704,"y":123.3,"s":"rGO fe3"},{"x":702.7,"y":122,"s":"rGO fe3"},
{"x":716.5,"y":156,"s":"rGO sat712"},{"x":715.8,"y":155,"s":"rGO sat712"},{"x":715,"y":156,"s":"rGO sat712"},{"x":714.2,"y":159,"s":"rGO sat712"},{"x":713.5,"y":163,"s":"rGO sat712"},{"x":712.9,"y":169,"s":"rGO sat712"},{"x":712.5,"y":173.5,"s":"rGO sat712"},{"x":712.1,"y":175.7,"s":"rGO sat712"},{"x":711.7,"y":174.5,"s":"rGO sat712"},{"x":711.3,"y":170.7,"s":"rGO sat712"},{"x":710.8,"y":162,"s":"rGO sat712"},{"x":710.3,"y":152.3,"s":"rGO sat712"},{"x":709.8,"y":143,"s":"rGO sat712"},{"x":709.4,"y":135.7,"s":"rGO sat712"},{"x":708.7,"y":131,"s":"rGO sat712"},{"x":707.8,"y":128,"s":"rGO sat712"},{"x":706.5,"y":126,"s":"rGO sat712"},{"x":705.5,"y":124.7,"s":"rGO sat712"},{"x":704,"y":123.3,"s":"rGO sat712"},{"x":702.7,"y":122,"s":"rGO sat712"},
{"x":716.5,"y":154,"s":"rGO p32"},{"x":715.8,"y":153,"s":"rGO p32"},{"x":714.5,"y":151.7,"s":"rGO p32"},{"x":713.5,"y":151,"s":"rGO p32"},{"x":712.6,"y":150.7,"s":"rGO p32"},{"x":711.9,"y":152.5,"s":"rGO p32"},{"x":711.3,"y":157.3,"s":"rGO p32"},{"x":710.8,"y":166,"s":"rGO p32"},{"x":710.3,"y":179,"s":"rGO p32"},{"x":709.9,"y":193,"s":"rGO p32"},{"x":709.4,"y":209,"s":"rGO p32"},{"x":709,"y":218,"s":"rGO p32"},{"x":708.7,"y":220.7,"s":"rGO p32"},{"x":708.4,"y":220,"s":"rGO p32"},{"x":708.1,"y":215.7,"s":"rGO p32"},{"x":707.7,"y":208,"s":"rGO p32"},{"x":707.4,"y":199,"s":"rGO p32"},{"x":707.1,"y":186,"s":"rGO p32"},{"x":706.8,"y":172.3,"s":"rGO p32"},{"x":706.5,"y":160,"s":"rGO p32"},{"x":706.2,"y":149,"s":"rGO p32"},{"x":705.8,"y":141,"s":"rGO p32"},{"x":705.5,"y":135.7,"s":"rGO p32"},{"x":705,"y":130.5,"s":"rGO p32"},{"x":704.5,"y":127.3,"s":"rGO p32"},{"x":703.5,"y":124.5,"s":"rGO p32"},{"x":702.7,"y":123,"s":"rGO p32"},
{"x":735,"y":187.3,"s":"rGO fit"},{"x":734,"y":190,"s":"rGO fit"},{"x":732.7,"y":192.3,"s":"rGO fit"},{"x":731.5,"y":193,"s":"rGO fit"},{"x":730.4,"y":193,"s":"rGO fit"},{"x":729.5,"y":192.5,"s":"rGO fit"},{"x":728.8,"y":191.7,"s":"rGO fit"},{"x":728,"y":190,"s":"rGO fit"},{"x":727.2,"y":188.3,"s":"rGO fit"},{"x":726.4,"y":191,"s":"rGO fit"},{"x":725.6,"y":195.7,"s":"rGO fit"},{"x":724.8,"y":200.5,"s":"rGO fit"},{"x":724,"y":205,"s":"rGO fit"},{"x":723.2,"y":208.5,"s":"rGO fit"},{"x":722.5,"y":209.7,"s":"rGO fit"},{"x":721.8,"y":208.5,"s":"rGO fit"},{"x":721.1,"y":205.7,"s":"rGO fit"},{"x":720.4,"y":201.5,"s":"rGO fit"},{"x":719.8,"y":197.3,"s":"rGO fit"},{"x":719.3,"y":193,"s":"rGO fit"},{"x":718.8,"y":190.7,"s":"rGO fit"},{"x":718.4,"y":187,"s":"rGO fit"},{"x":718,"y":185.7,"s":"rGO fit"},{"x":717.3,"y":185.2,"s":"rGO fit"},{"x":716.5,"y":185,"s":"rGO fit"},{"x":715.8,"y":184,"s":"rGO fit"},{"x":715.2,"y":182.3,"s":"rGO fit"},{"x":714.7,"y":180,"s":"rGO fit"},{"x":714.2,"y":178.3,"s":"rGO fit"},{"x":713.7,"y":178.5,"s":"rGO fit"},{"x":713.2,"y":179.7,"s":"rGO fit"},{"x":712.5,"y":183,"s":"rGO fit"},{"x":711.9,"y":187.3,"s":"rGO fit"},{"x":711.4,"y":189.5,"s":"rGO fit"},{"x":711,"y":192.3,"s":"rGO fit"},{"x":710.5,"y":198,"s":"rGO fit"},{"x":710,"y":205.7,"s":"rGO fit"},{"x":709.7,"y":211,"s":"rGO fit"},{"x":709.4,"y":217.3,"s":"rGO fit"},{"x":709.1,"y":222,"s":"rGO fit"},{"x":708.8,"y":224,"s":"rGO fit"},{"x":708.5,"y":223,"s":"rGO fit"},{"x":708.1,"y":219,"s":"rGO fit"},{"x":707.8,"y":212,"s":"rGO fit"},{"x":707.4,"y":202.3,"s":"rGO fit"},{"x":707.1,"y":189,"s":"rGO fit"},{"x":706.8,"y":175.7,"s":"rGO fit"},{"x":706.5,"y":163,"s":"rGO fit"},{"x":706.2,"y":152.3,"s":"rGO fit"},{"x":705.8,"y":144,"s":"rGO fit"},{"x":705.5,"y":137.3,"s":"rGO fit"},{"x":705,"y":131.5,"s":"rGO fit"},{"x":704.5,"y":127.3,"s":"rGO fit"},{"x":704,"y":125.5,"s":"rGO fit"},{"x":703.6,"y":124,"s":"rGO fit"},{"x":702.7,"y":123,"s":"rGO fit"},
{"x":735,"y":186,"s":"rGO raw"},{"x":734.5,"y":190,"s":"rGO raw"},{"x":734,"y":187.5,"s":"rGO raw"},{"x":733.5,"y":192,"s":"rGO raw"},{"x":733,"y":190,"s":"rGO raw"},{"x":732.5,"y":194.5,"s":"rGO raw"},{"x":732,"y":191.5,"s":"rGO raw"},{"x":731.5,"y":195,"s":"rGO raw"},{"x":731,"y":192,"s":"rGO raw"},{"x":730.5,"y":195.5,"s":"rGO raw"},{"x":730,"y":192,"s":"rGO raw"},{"x":729.5,"y":195,"s":"rGO raw"},{"x":729,"y":191,"s":"rGO raw"},{"x":728.5,"y":193,"s":"rGO raw"},{"x":728,"y":189,"s":"rGO raw"},{"x":727.5,"y":191,"s":"rGO raw"},{"x":727,"y":188,"s":"rGO raw"},{"x":726.5,"y":193,"s":"rGO raw"},{"x":726,"y":194,"s":"rGO raw"},{"x":725.5,"y":199,"s":"rGO raw"},{"x":725,"y":200,"s":"rGO raw"},{"x":724.5,"y":205.5,"s":"rGO raw"},{"x":724,"y":205,"s":"rGO raw"},{"x":723.5,"y":211,"s":"rGO raw"},{"x":723,"y":209,"s":"rGO raw"},{"x":722.5,"y":213,"s":"rGO raw"},{"x":722,"y":210,"s":"rGO raw"},{"x":721.5,"y":212.5,"s":"rGO raw"},{"x":721,"y":206,"s":"rGO raw"},{"x":720.5,"y":204,"s":"rGO raw"},{"x":720,"y":198.5,"s":"rGO raw"},{"x":719.5,"y":196.5,"s":"rGO raw"},{"x":719,"y":190,"s":"rGO raw"},{"x":718.5,"y":190.5,"s":"rGO raw"},{"x":718,"y":186,"s":"rGO raw"},{"x":717.5,"y":188.5,"s":"rGO raw"},{"x":717,"y":185,"s":"rGO raw"},{"x":716.5,"y":188,"s":"rGO raw"},{"x":716,"y":184.5,"s":"rGO raw"},{"x":715.5,"y":186,"s":"rGO raw"},{"x":715,"y":181.5,"s":"rGO raw"},{"x":714.5,"y":182,"s":"rGO raw"},{"x":714,"y":178,"s":"rGO raw"},{"x":713.5,"y":181.5,"s":"rGO raw"},{"x":713,"y":180,"s":"rGO raw"},{"x":712.5,"y":186,"s":"rGO raw"},{"x":712,"y":187,"s":"rGO raw"},{"x":711.5,"y":192.5,"s":"rGO raw"},{"x":711,"y":193,"s":"rGO raw"},{"x":710.5,"y":201,"s":"rGO raw"},{"x":710,"y":207,"s":"rGO raw"},{"x":709.5,"y":216,"s":"rGO raw"},{"x":709,"y":222,"s":"rGO raw"},{"x":708.5,"y":226,"s":"rGO raw"},{"x":708,"y":220,"s":"rGO raw"},{"x":707.5,"y":211,"s":"rGO raw"},{"x":707,"y":196,"s":"rGO raw"},{"x":706.5,"y":172,"s":"rGO raw"},{"x":706,"y":154,"s":"rGO raw"},{"x":705.5,"y":141,"s":"rGO raw"},{"x":705,"y":133,"s":"rGO raw"},{"x":704.5,"y":128.5,"s":"rGO raw"},{"x":704,"y":126,"s":"rGO raw"},{"x":703.5,"y":124.5,"s":"rGO raw"},{"x":703,"y":123,"s":"rGO raw"},
{"x":735,"y":82,"s":"CF raw"},{"x":734.5,"y":85.5,"s":"CF raw"},{"x":734,"y":83,"s":"CF raw"},{"x":733.5,"y":86,"s":"CF raw"},{"x":733,"y":83.5,"s":"CF raw"},{"x":732.5,"y":87,"s":"CF raw"},{"x":732,"y":84,"s":"CF raw"},{"x":731.5,"y":86.5,"s":"CF raw"},{"x":731,"y":83.5,"s":"CF raw"},{"x":730.5,"y":86,"s":"CF raw"},{"x":730,"y":84,"s":"CF raw"},{"x":729.5,"y":85.5,"s":"CF raw"},{"x":729,"y":83,"s":"CF raw"},{"x":728.5,"y":85.5,"s":"CF raw"},{"x":728,"y":83,"s":"CF raw"},{"x":727.5,"y":85.5,"s":"CF raw"},{"x":727,"y":84,"s":"CF raw"},{"x":726.5,"y":86,"s":"CF raw"},{"x":726,"y":86,"s":"CF raw"},{"x":725.5,"y":91,"s":"CF raw"},{"x":725,"y":93,"s":"CF raw"},{"x":724.5,"y":97.5,"s":"CF raw"},{"x":724,"y":99.5,"s":"CF raw"},{"x":723.5,"y":104,"s":"CF raw"},{"x":723,"y":103,"s":"CF raw"},{"x":722.5,"y":106.5,"s":"CF raw"},{"x":722,"y":103.5,"s":"CF raw"},{"x":721.5,"y":104,"s":"CF raw"},{"x":721,"y":100,"s":"CF raw"},{"x":720.5,"y":97.5,"s":"CF raw"},{"x":720,"y":92,"s":"CF raw"},{"x":719.5,"y":90,"s":"CF raw"},{"x":719,"y":84,"s":"CF raw"},{"x":718.5,"y":84,"s":"CF raw"},{"x":718,"y":79.5,"s":"CF raw"},{"x":717.5,"y":80.5,"s":"CF raw"},{"x":717,"y":77.5,"s":"CF raw"},{"x":716.5,"y":80,"s":"CF raw"},{"x":716,"y":76.5,"s":"CF raw"},{"x":715.5,"y":78.5,"s":"CF raw"},{"x":715,"y":75,"s":"CF raw"},{"x":714.5,"y":76.5,"s":"CF raw"},{"x":714,"y":73,"s":"CF raw"},{"x":713.5,"y":75,"s":"CF raw"},{"x":713,"y":73.5,"s":"CF raw"},{"x":712.5,"y":79,"s":"CF raw"},{"x":712,"y":82,"s":"CF raw"},{"x":711.5,"y":87,"s":"CF raw"},{"x":711,"y":89,"s":"CF raw"},{"x":710.5,"y":94,"s":"CF raw"},{"x":710,"y":97,"s":"CF raw"},{"x":709.5,"y":107,"s":"CF raw"},{"x":709,"y":112,"s":"CF raw"},{"x":708.5,"y":116,"s":"CF raw"},{"x":708,"y":109,"s":"CF raw"},{"x":707.5,"y":88,"s":"CF raw"},{"x":707,"y":61,"s":"CF raw"},{"x":706.5,"y":40,"s":"CF raw"},{"x":706,"y":26,"s":"CF raw"},{"x":705.5,"y":17.5,"s":"CF raw"},{"x":705,"y":14,"s":"CF raw"},{"x":704.5,"y":10,"s":"CF raw"},{"x":704,"y":8.5,"s":"CF raw"},{"x":703.5,"y":7.5,"s":"CF raw"},{"x":703,"y":7,"s":"CF raw"},
{"x":728.3,"y":83,"s":"CF p12"},{"x":726.9,"y":83,"s":"CF p12"},{"x":726.2,"y":85,"s":"CF p12"},{"x":725.6,"y":87.3,"s":"CF p12"},{"x":724.8,"y":91.5,"s":"CF p12"},{"x":724,"y":95.7,"s":"CF p12"},{"x":723.2,"y":99,"s":"CF p12"},{"x":722.5,"y":100.7,"s":"CF p12"},{"x":721.8,"y":99,"s":"CF p12"},{"x":721.1,"y":94,"s":"CF p12"},{"x":720.4,"y":86.5,"s":"CF p12"},{"x":719.8,"y":79,"s":"CF p12"},{"x":719.3,"y":73,"s":"CF p12"},{"x":718.8,"y":69.3,"s":"CF p12"},{"x":718,"y":65.5,"s":"CF p12"},{"x":717.4,"y":62.3,"s":"CF p12"},{"x":716.6,"y":60.5,"s":"CF p12"},{"x":715.8,"y":59,"s":"CF p12"},{"x":714.2,"y":55.7,"s":"CF p12"},{"x":712.6,"y":52.3,"s":"CF p12"},{"x":711,"y":47.3,"s":"CF p12"},{"x":710.2,"y":43,"s":"CF p12"},{"x":709.4,"y":37.3,"s":"CF p12"},{"x":708.6,"y":31.5,"s":"CF p12"},{"x":707.8,"y":25.7,"s":"CF p12"},{"x":707,"y":18.5,"s":"CF p12"},{"x":706.2,"y":12.3,"s":"CF p12"},{"x":705.3,"y":8.5,"s":"CF p12"},{"x":704.5,"y":7.3,"s":"CF p12"},{"x":702.7,"y":6.3,"s":"CF p12"},
{"x":728.3,"y":82.3,"s":"CF fe3"},{"x":726,"y":81,"s":"CF fe3"},{"x":724,"y":79.5,"s":"CF fe3"},{"x":722.4,"y":77.3,"s":"CF fe3"},{"x":721.5,"y":75.5,"s":"CF fe3"},{"x":720.8,"y":74,"s":"CF fe3"},{"x":719.8,"y":72.8,"s":"CF fe3"},{"x":719,"y":72.3,"s":"CF fe3"},{"x":718.2,"y":73.5,"s":"CF fe3"},{"x":717.4,"y":75,"s":"CF fe3"},{"x":716.6,"y":75.5,"s":"CF fe3"},{"x":715.8,"y":75,"s":"CF fe3"},{"x":715,"y":73.5,"s":"CF fe3"},{"x":714.2,"y":70.7,"s":"CF fe3"},{"x":713.4,"y":66.5,"s":"CF fe3"},{"x":712.6,"y":62.3,"s":"CF fe3"},{"x":711.8,"y":57.5,"s":"CF fe3"},{"x":711,"y":52.3,"s":"CF fe3"},{"x":710.2,"y":46,"s":"CF fe3"},{"x":709.4,"y":39,"s":"CF fe3"},{"x":708.6,"y":32,"s":"CF fe3"},{"x":707.8,"y":25.7,"s":"CF fe3"},{"x":707,"y":19,"s":"CF fe3"},{"x":706.2,"y":13,"s":"CF fe3"},{"x":705.3,"y":9,"s":"CF fe3"},{"x":704.5,"y":7.8,"s":"CF fe3"},{"x":702.7,"y":7,"s":"CF fe3"},
{"x":728.3,"y":82.3,"s":"CF p32"},{"x":726,"y":80,"s":"CF p32"},{"x":724,"y":76,"s":"CF p32"},{"x":722.4,"y":72.3,"s":"CF p32"},{"x":720.8,"y":69,"s":"CF p32"},{"x":719,"y":65.7,"s":"CF p32"},{"x":717.4,"y":63,"s":"CF p32"},{"x":715.8,"y":60.7,"s":"CF p32"},{"x":714.2,"y":59,"s":"CF p32"},{"x":712.6,"y":57.3,"s":"CF p32"},{"x":711.6,"y":55.7,"s":"CF p32"},{"x":711.1,"y":58.5,"s":"CF p32"},{"x":710.7,"y":65.7,"s":"CF p32"},{"x":710.2,"y":77,"s":"CF p32"},{"x":709.7,"y":89,"s":"CF p32"},{"x":709.2,"y":100,"s":"CF p32"},{"x":708.8,"y":106.3,"s":"CF p32"},{"x":708.4,"y":104,"s":"CF p32"},{"x":708.1,"y":100.7,"s":"CF p32"},{"x":707.7,"y":88,"s":"CF p32"},{"x":707.4,"y":75.7,"s":"CF p32"},{"x":707.1,"y":61,"s":"CF p32"},{"x":706.8,"y":47.3,"s":"CF p32"},{"x":706.5,"y":37,"s":"CF p32"},{"x":706.2,"y":27.3,"s":"CF p32"},{"x":705.7,"y":19,"s":"CF p32"},{"x":705.2,"y":14,"s":"CF p32"},{"x":704.7,"y":11,"s":"CF p32"},{"x":704.2,"y":9,"s":"CF p32"},{"x":703.5,"y":7.8,"s":"CF p32"},{"x":702.7,"y":7.3,"s":"CF p32"},
{"x":728.3,"y":83,"s":"CF fit"},{"x":726.9,"y":84,"s":"CF fit"},{"x":726.2,"y":86.5,"s":"CF fit"},{"x":725.6,"y":90.7,"s":"CF fit"},{"x":724.8,"y":95.5,"s":"CF fit"},{"x":724,"y":100.7,"s":"CF fit"},{"x":723.2,"y":103.8,"s":"CF fit"},{"x":722.4,"y":105,"s":"CF fit"},{"x":721.8,"y":104,"s":"CF fit"},{"x":721.1,"y":100.7,"s":"CF fit"},{"x":720.4,"y":95,"s":"CF fit"},{"x":719.8,"y":89,"s":"CF fit"},{"x":719.4,"y":85.5,"s":"CF fit"},{"x":719,"y":82.3,"s":"CF fit"},{"x":718.2,"y":79.5,"s":"CF fit"},{"x":717.4,"y":78.3,"s":"CF fit"},{"x":716.6,"y":77.5,"s":"CF fit"},{"x":715.8,"y":77.3,"s":"CF fit"},{"x":715,"y":76,"s":"CF fit"},{"x":714.2,"y":75,"s":"CF fit"},{"x":713.7,"y":74,"s":"CF fit"},{"x":713.2,"y":73,"s":"CF fit"},{"x":712.7,"y":76,"s":"CF fit"},{"x":712.3,"y":80.7,"s":"CF fit"},{"x":711.8,"y":84,"s":"CF fit"},{"x":711.3,"y":87.3,"s":"CF fit"},{"x":710.8,"y":90,"s":"CF fit"},{"x":710.3,"y":94,"s":"CF fit"},{"x":709.8,"y":100,"s":"CF fit"},{"x":709.4,"y":107.3,"s":"CF fit"},{"x":709,"y":112,"s":"CF fit"},{"x":708.7,"y":114,"s":"CF fit"},{"x":708.4,"y":112,"s":"CF fit"},{"x":708.1,"y":107.3,"s":"CF fit"},{"x":707.7,"y":94,"s":"CF fit"},{"x":707.4,"y":79,"s":"CF fit"},{"x":707.1,"y":64,"s":"CF fit"},{"x":706.8,"y":49,"s":"CF fit"},{"x":706.5,"y":38,"s":"CF fit"},{"x":706.2,"y":29,"s":"CF fit"},{"x":705.7,"y":21,"s":"CF fit"},{"x":705.2,"y":15.7,"s":"CF fit"},{"x":704.7,"y":12,"s":"CF fit"},{"x":704.2,"y":9,"s":"CF fit"},{"x":703.5,"y":7.8,"s":"CF fit"},{"x":702.7,"y":7.3,"s":"CF fit"}
],
"D":[
{"x":534,"y":125.3,"s":"rGO bg"},{"x":531,"y":123.5,"s":"rGO bg"},{"x":529.3,"y":121.3,"s":"rGO bg"},{"x":528,"y":120,"s":"rGO bg"},{"x":527.45,"y":119,"s":"rGO bg"},{"x":526,"y":117,"s":"rGO bg"},{"x":524.5,"y":115.3,"s":"rGO bg"},
{"x":534,"y":124.7,"s":"rGO c3"},{"x":532,"y":124,"s":"rGO c3"},{"x":531,"y":124.5,"s":"rGO c3"},{"x":530.3,"y":127.3,"s":"rGO c3"},{"x":529.3,"y":132.3,"s":"rGO c3"},{"x":528.8,"y":134,"s":"rGO c3"},{"x":528.4,"y":133.3,"s":"rGO c3"},{"x":527.9,"y":130,"s":"rGO c3"},{"x":527.45,"y":125.7,"s":"rGO c3"},{"x":527,"y":120.7,"s":"rGO c3"},{"x":526.5,"y":118,"s":"rGO c3"},{"x":526,"y":116.3,"s":"rGO c3"},{"x":524.5,"y":115.3,"s":"rGO c3"},
{"x":534,"y":124.7,"s":"rGO oh"},{"x":533.1,"y":125.7,"s":"rGO oh"},{"x":532.6,"y":127.5,"s":"rGO oh"},{"x":532.2,"y":130.7,"s":"rGO oh"},{"x":531.6,"y":140,"s":"rGO oh"},{"x":531.1,"y":152.3,"s":"rGO oh"},{"x":530.6,"y":164,"s":"rGO oh"},{"x":530.1,"y":174.7,"s":"rGO oh"},{"x":529.6,"y":180,"s":"rGO oh"},{"x":529.3,"y":179,"s":"rGO oh"},{"x":528.86,"y":174,"s":"rGO oh"},{"x":528.4,"y":162.3,"s":"rGO oh"},{"x":527.9,"y":145.7,"s":"rGO oh"},{"x":527.45,"y":134,"s":"rGO oh"},{"x":527,"y":125.7,"s":"rGO oh"},{"x":526.5,"y":120.7,"s":"rGO oh"},{"x":526,"y":118,"s":"rGO oh"},{"x":525,"y":116.7,"s":"rGO oh"},{"x":524.5,"y":115.7,"s":"rGO oh"},
{"x":531,"y":123,"s":"rGO o2"},{"x":529.3,"y":121.5,"s":"rGO o2"},{"x":529,"y":123,"s":"rGO o2"},{"x":528.8,"y":126.5,"s":"rGO o2"},{"x":528.58,"y":131,"s":"rGO o2"},{"x":528.3,"y":145,"s":"rGO o2"},{"x":528,"y":168,"s":"rGO o2"},{"x":527.7,"y":186,"s":"rGO o2"},{"x":527.45,"y":192.3,"s":"rGO o2"},{"x":527.2,"y":187,"s":"rGO o2"},{"x":526.9,"y":169,"s":"rGO o2"},{"x":526.6,"y":144,"s":"rGO o2"},{"x":526.3,"y":125.7,"s":"rGO o2"},{"x":526,"y":119,"s":"rGO o2"},{"x":525.6,"y":117,"s":"rGO o2"},{"x":525,"y":116.3,"s":"rGO o2"},{"x":524.5,"y":115.5,"s":"rGO o2"},
{"x":534,"y":125.7,"s":"rGO fit"},{"x":533.1,"y":126.7,"s":"rGO fit"},{"x":532.6,"y":129,"s":"rGO fit"},{"x":532.2,"y":132.3,"s":"rGO fit"},{"x":531.9,"y":136,"s":"rGO fit"},{"x":531.6,"y":141.3,"s":"rGO fit"},{"x":531.1,"y":154,"s":"rGO fit"},{"x":530.6,"y":165.7,"s":"rGO fit"},{"x":530.2,"y":175.7,"s":"rGO fit"},{"x":529.8,"y":185.7,"s":"rGO fit"},{"x":529.5,"y":189.7,"s":"rGO fit"},{"x":529.33,"y":190.7,"s":"rGO fit"},{"x":528.86,"y":190.7,"s":"rGO fit"},{"x":528.58,"y":192.3,"s":"rGO fit"},{"x":528.3,"y":199,"s":"rGO fit"},{"x":528,"y":209,"s":"rGO fit"},{"x":527.7,"y":214.7,"s":"rGO fit"},{"x":527.5,"y":217.5,"s":"rGO fit"},{"x":527.35,"y":215.5,"s":"rGO fit"},{"x":527.2,"y":206,"s":"rGO fit"},{"x":526.9,"y":178,"s":"rGO fit"},{"x":526.6,"y":147.3,"s":"rGO fit"},{"x":526.3,"y":127.3,"s":"rGO fit"},{"x":526,"y":120,"s":"rGO fit"},{"x":525.75,"y":117.3,"s":"rGO fit"},{"x":525.1,"y":115.7,"s":"rGO fit"},{"x":524.5,"y":115.7,"s":"rGO fit"},
{"x":534,"y":17.3,"s":"CF bg"},{"x":531,"y":15.5,"s":"CF bg"},{"x":529,"y":14,"s":"CF bg"},{"x":527,"y":12.5,"s":"CF bg"},{"x":525,"y":11,"s":"CF bg"},{"x":524.5,"y":10.7,"s":"CF bg"},
{"x":534,"y":19,"s":"CF oh"},{"x":533.1,"y":20,"s":"CF oh"},{"x":532.4,"y":24.7,"s":"CF oh"},{"x":531.7,"y":34,"s":"CF oh"},{"x":531.2,"y":45.7,"s":"CF oh"},{"x":530.8,"y":64,"s":"CF oh"},{"x":530.3,"y":82.3,"s":"CF oh"},{"x":529.9,"y":91.3,"s":"CF oh"},{"x":529.75,"y":92.3,"s":"CF oh"},{"x":529.6,"y":92,"s":"CF oh"},{"x":529.3,"y":88,"s":"CF oh"},{"x":529.05,"y":82,"s":"CF oh"},{"x":528.86,"y":74,"s":"CF oh"},{"x":528.4,"y":59,"s":"CF oh"},{"x":527.9,"y":42.3,"s":"CF oh"},{"x":527.45,"y":30.7,"s":"CF oh"},{"x":527,"y":22.3,"s":"CF oh"},{"x":526.5,"y":17.3,"s":"CF oh"},{"x":526,"y":14.7,"s":"CF oh"},{"x":524.5,"y":12,"s":"CF oh"},
{"x":534,"y":16.7,"s":"CF o2"},{"x":531,"y":15.5,"s":"CF o2"},{"x":529.3,"y":14.2,"s":"CF o2"},{"x":529.05,"y":16,"s":"CF o2"},{"x":528.86,"y":20.7,"s":"CF o2"},{"x":528.58,"y":34,"s":"CF o2"},{"x":528.3,"y":55.7,"s":"CF o2"},{"x":528,"y":75.7,"s":"CF o2"},{"x":527.7,"y":88,"s":"CF o2"},{"x":527.5,"y":90.7,"s":"CF o2"},{"x":527.3,"y":87.3,"s":"CF o2"},{"x":527.07,"y":70.7,"s":"CF o2"},{"x":526.8,"y":47.3,"s":"CF o2"},{"x":526.5,"y":27.3,"s":"CF o2"},{"x":526.2,"y":17.3,"s":"CF o2"},{"x":525.85,"y":13.3,"s":"CF o2"},{"x":524.5,"y":11.3,"s":"CF o2"},
{"x":534,"y":19,"s":"CF fit"},{"x":533.1,"y":20,"s":"CF fit"},{"x":532.4,"y":24.7,"s":"CF fit"},{"x":531.7,"y":34,"s":"CF fit"},{"x":531.2,"y":45.7,"s":"CF fit"},{"x":530.8,"y":64,"s":"CF fit"},{"x":530.3,"y":82.3,"s":"CF fit"},{"x":529.9,"y":91.3,"s":"CF fit"},{"x":529.6,"y":92.3,"s":"CF fit"},{"x":529.3,"y":87.3,"s":"CF fit"},{"x":529.05,"y":82.3,"s":"CF fit"},{"x":528.8,"y":79,"s":"CF fit"},{"x":528.5,"y":80.7,"s":"CF fit"},{"x":528.2,"y":87.3,"s":"CF fit"},{"x":527.9,"y":95.7,"s":"CF fit"},{"x":527.6,"y":102.3,"s":"CF fit"},{"x":527.45,"y":99,"s":"CF fit"},{"x":527.2,"y":84,"s":"CF fit"},{"x":526.9,"y":60.7,"s":"CF fit"},{"x":526.6,"y":40.7,"s":"CF fit"},{"x":526.3,"y":25.7,"s":"CF fit"},{"x":526,"y":17.3,"s":"CF fit"},{"x":525.6,"y":13.3,"s":"CF fit"},{"x":524.5,"y":11.3,"s":"CF fit"},
{"x":533.8,"y":126.5,"s":"rGO raw"},{"x":533.5,"y":127.5,"s":"rGO raw"},{"x":533.2,"y":125.8,"s":"rGO raw"},{"x":532.9,"y":128,"s":"rGO raw"},{"x":532.6,"y":130,"s":"rGO raw"},{"x":532.3,"y":132.5,"s":"rGO raw"},{"x":532,"y":135.5,"s":"rGO raw"},{"x":531.7,"y":139.5,"s":"rGO raw"},{"x":531.4,"y":146.5,"s":"rGO raw"},{"x":531.1,"y":153,"s":"rGO raw"},{"x":530.8,"y":160.5,"s":"rGO raw"},{"x":530.5,"y":169,"s":"rGO raw"},{"x":530.2,"y":176,"s":"rGO raw"},{"x":529.9,"y":182.5,"s":"rGO raw"},{"x":529.6,"y":188,"s":"rGO raw"},{"x":529.3,"y":190,"s":"rGO raw"},{"x":529,"y":190.3,"s":"rGO raw"},{"x":528.7,"y":191,"s":"rGO raw"},{"x":528.4,"y":197,"s":"rGO raw"},{"x":528.1,"y":206.5,"s":"rGO raw"},{"x":527.85,"y":213,"s":"rGO raw"},{"x":527.6,"y":215,"s":"rGO raw"},{"x":527.35,"y":216.5,"s":"rGO raw"},{"x":527.1,"y":201,"s":"rGO raw"},{"x":526.85,"y":178,"s":"rGO raw"},{"x":526.6,"y":150,"s":"rGO raw"},{"x":526.35,"y":131,"s":"rGO raw"},{"x":526.1,"y":122,"s":"rGO raw"},{"x":525.8,"y":118.5,"s":"rGO raw"},{"x":525.5,"y":116.5,"s":"rGO raw"},{"x":525.2,"y":116,"s":"rGO raw"},{"x":524.9,"y":116.3,"s":"rGO raw"},
{"x":533.8,"y":19.5,"s":"CF raw"},{"x":533.4,"y":20.5,"s":"CF raw"},{"x":533,"y":21,"s":"CF raw"},{"x":532.7,"y":22.5,"s":"CF raw"},{"x":532.4,"y":25,"s":"CF raw"},{"x":532.1,"y":28.5,"s":"CF raw"},{"x":531.8,"y":32.5,"s":"CF raw"},{"x":531.5,"y":38,"s":"CF raw"},{"x":531.2,"y":46,"s":"CF raw"},{"x":530.9,"y":58,"s":"CF raw"},{"x":530.6,"y":71.5,"s":"CF raw"},{"x":530.3,"y":82,"s":"CF raw"},{"x":530,"y":90,"s":"CF raw"},{"x":529.8,"y":93,"s":"CF raw"},{"x":529.5,"y":92,"s":"CF raw"},{"x":529.2,"y":86,"s":"CF raw"},{"x":528.9,"y":80.5,"s":"CF raw"},{"x":528.6,"y":80.2,"s":"CF raw"},{"x":528.3,"y":85.5,"s":"CF raw"},{"x":528,"y":94.5,"s":"CF raw"},{"x":527.8,"y":99.5,"s":"CF raw"},{"x":527.6,"y":102,"s":"CF raw"},{"x":527.4,"y":101,"s":"CF raw"},{"x":527.2,"y":88,"s":"CF raw"},{"x":527,"y":73,"s":"CF raw"},{"x":526.7,"y":51,"s":"CF raw"},{"x":526.4,"y":31,"s":"CF raw"},{"x":526.1,"y":20,"s":"CF raw"},{"x":525.8,"y":15,"s":"CF raw"},{"x":525.5,"y":13.5,"s":"CF raw"},{"x":525.2,"y":12.5,"s":"CF raw"},{"x":524.8,"y":12,"s":"CF raw"}
]
},
"vconcat":[
{"hconcat":[
{"width":335,"height":207,
 "encoding":{
  "x":{"field":"x","type":"quantitative","scale":{"domain":[0,1240],"nice":false,"zero":false},"axis":{"title":"Binding energy (eV)","values":[0,150,300,450,600,750,900,1050,1200],"format":"d","labelFontSize":13,"tickSize":3,"labelPadding":3,"titleFontSize":15,"titlePadding":3}},
  "y":{"field":"y","type":"quantitative","scale":{"domain":[0,207],"nice":false,"zero":false},"axis":{"title":"Intensity (a.u.)","labels":false,"ticks":false,"titleFontSize":15,"titlePadding":5}}
 },
 "layer":[
  {"data":{"name":"A"},"transform":[{"filter":{"field":"s","oneOf":["CF/rGO","CF"]}}],"mark":{"type":"line","strokeWidth":1.4,"clip":true},
   "encoding":{"color":{"field":"s","type":"nominal","scale":{"domain":["CF/rGO","CF","C1s","legR","legB"],"range":["#ff0000","#0000ff","#ff0000","#ff0000","#0000ff"]},"legend":null}}},
  {"data":{"name":"A"},"transform":[{"filter":{"field":"s","oneOf":["C1s"]}}],"mark":{"type":"line","strokeWidth":1,"clip":true},
   "encoding":{"color":{"field":"s","type":"nominal","legend":null}}},
  {"data":{"name":"A"},"transform":[{"filter":{"field":"s","oneOf":["legR","legB"]}}],"mark":{"type":"line","strokeWidth":2,"clip":true},
   "encoding":{"color":{"field":"s","type":"nominal","legend":null}}},
  {"data":{"values":[{"x":301,"y":133,"t":"C1s"},{"x":546,"y":154.7,"t":"O1s"},{"x":680,"y":160,"t":"Fe2p"},{"x":761.5,"y":175,"t":"Co2p"}]},
   "mark":{"type":"text","fontSize":14,"color":"#ff0000","align":"center","baseline":"middle"},"encoding":{"text":{"field":"t"}}},
  {"data":{"values":[{"x":539,"y":70.3,"t":"O1s"},{"x":705,"y":70,"t":"Fe2p"},{"x":765,"y":89,"t":"Co2p"}]},
   "mark":{"type":"text","fontSize":14,"color":"#0000ff","align":"center","baseline":"middle"},"encoding":{"text":{"field":"t"}}},
  {"data":{"values":[{"x":1009,"y":131.5,"t":"CF/rGO"}]},
   "mark":{"type":"text","fontSize":14,"color":"#ff0000","align":"left","baseline":"middle"},"encoding":{"text":{"field":"t"}}},
  {"data":{"values":[{"x":1140,"y":34.7,"t":"CF"}]},
   "mark":{"type":"text","fontSize":14,"color":"#0000ff","align":"left","baseline":"middle"},"encoding":{"text":{"field":"t"}}},
  {"data":{"values":[{"x":0,"y":207,"t":"(A)"}]},
   "mark":{"type":"text","fontSize":14,"color":"#000","align":"right","baseline":"top","dx":-1,"dy":2},"encoding":{"text":{"field":"t"}}}
 ]},
{"width":335,"height":207,
 "encoding":{
  "x":{"field":"x","type":"quantitative","scale":{"domain":[805,772.7],"nice":false,"zero":false},"axis":{"title":"Binding energy (eV)","values":[805,800,795,790,785,780,775],"labelFontSize":15,"tickSize":3,"labelPadding":5,"titleFontSize":15,"titlePadding":0}},
  "y":{"field":"y","type":"quantitative","scale":{"domain":[0,207],"nice":false,"zero":false},"axis":{"title":"Intensity (a.u.)","labels":false,"ticks":false,"titleFontSize":15,"titlePadding":5}}
 },
 "layer":[
  {"data":{"name":"B"},"transform":[{"filter":{"field":"s","oneOf":["rGO raw","CF raw"]}}],"mark":{"type":"line","strokeWidth":2.8,"color":"#ffff55","clip":true},"encoding":{"detail":{"field":"s"}}},
  {"data":{"name":"B"},"transform":[{"filter":{"field":"s","oneOf":["rGO bg","rGO sat1","rGO p12","rGO sat2","rGO c780","rGO p32","CF bg","CF sat1","CF p12","CF sat2","CF c780","CF p32"]}}],"mark":{"type":"line","strokeWidth":1.6,"clip":true},
   "encoding":{"color":{"field":"s","type":"nominal","scale":{"domain":["rGO bg","rGO sat1","rGO p12","rGO sat2","rGO c780","rGO p32","CF bg","CF sat1","CF p12","CF sat2","CF c780","CF p32","rGO fit","CF fit"],"range":["#6b3b2b","#2ea04f","#a070e0","#cf9a14","#22c3c3","#6b3b2b","#6b3b2b","#22c3c3","#2ea04f","#a070e0","#6b3b2b","#cf9a14","#000080","#ff0000"]},"legend":null}}},
  {"data":{"name":"B"},"transform":[{"filter":{"field":"s","oneOf":["rGO fit","CF fit"]}}],"mark":{"type":"line","strokeWidth":2,"clip":true},
   "encoding":{"color":{"field":"s","type":"nominal","legend":null}}},
  {"data":{"values":[{"x":793.5,"y":165,"k":"a"},{"x":793.5,"y":44.7,"k":"a"},{"x":777.8,"y":181,"k":"b"},{"x":777.8,"y":61.3,"k":"b"}]},
   "mark":{"type":"line","strokeWidth":1.3,"strokeDash":[2,2],"color":"#0000ff"},"encoding":{"detail":{"field":"k"}}},
  {"data":{"values":[{"x":793.5,"y":95.3},{"x":777.8,"y":95.3}]},
   "mark":{"type":"line","strokeWidth":1.5,"strokeDash":[2,2],"color":"#ff00ff"},"encoding":{}},
  {"data":{"values":[{"x":800.3,"y":158,"t":"Sat"},{"x":784.2,"y":178,"t":"Sat"}]},
   "mark":{"type":"text","fontSize":13,"color":"#1414d8","align":"center","baseline":"middle"},"encoding":{"text":{"field":"t"}}},
  {"data":{"values":[{"x":792.4,"y":175.3,"t":"Co 2p"},{"x":777.93,"y":191.3,"t":"Co 2p"}]},
   "mark":{"type":"text","fontSize":14,"color":"#1414d8","align":"right","baseline":"middle"},"encoding":{"text":{"field":"t"}}},
  {"data":{"values":[{"x":792.4,"y":175.3,"t":"1/2"},{"x":777.93,"y":191.3,"t":"3/2"}]},
   "mark":{"type":"text","fontSize":9.5,"color":"#1414d8","align":"left","baseline":"middle","dy":4},"encoding":{"text":{"field":"t"}}},
  {"data":{"values":[{"x":800.8,"y":73,"t":"Sat"},{"x":784.7,"y":79.7,"t":"Sat"}]},
   "mark":{"type":"text","fontSize":13,"color":"#ff0000","align":"center","baseline":"middle"},"encoding":{"text":{"field":"t"}}},
  {"data":{"values":[{"x":792.5,"y":72,"t":"Co 2p"},{"x":777.93,"y":101.3,"t":"Co 2p"}]},
   "mark":{"type":"text","fontSize":14,"color":"#ff0000","align":"right","baseline":"middle"},"encoding":{"text":{"field":"t"}}},
  {"data":{"values":[{"x":792.5,"y":72,"t":"1/2"},{"x":777.93,"y":101.3,"t":"3/2"}]},
   "mark":{"type":"text","fontSize":9.5,"color":"#ff0000","align":"left","baseline":"middle","dy":4},"encoding":{"text":{"field":"t"}}},
  {"data":{"values":[{"x":774.55,"y":74.7,"t":"CF"}]},
   "mark":{"type":"text","fontSize":17,"color":"#ff0000","align":"center","baseline":"middle"},"encoding":{"text":{"field":"t"}}},
  {"data":{"values":[{"x":772.95,"y":198,"t":"CF/rGO"}]},
   "mark":{"type":"text","fontSize":13,"color":"#000080","align":"right","baseline":"middle"},"encoding":{"text":{"field":"t"}}},
  {"data":{"values":[{"x":792.38,"y":100.7,"t":"Co⁺² (16 eV)"}]},
   "mark":{"type":"text","fontSize":14,"color":"#000","align":"left","baseline":"middle"},"encoding":{"text":{"field":"t"}}},
  {"data":{"values":[{"x":805,"y":207,"t":"(B)"}]},
   "mark":{"type":"text","fontSize":14,"color":"#000","align":"right","baseline":"top","dx":-1,"dy":2},"encoding":{"text":{"field":"t"}}}
 ]}
],"spacing":0,"resolve":{"scale":{"color":"independent"}}},
{"hconcat":[
{"width":334,"height":229,
 "encoding":{
  "x":{"field":"x","type":"quantitative","scale":{"domain":[735,702.7],"nice":false,"zero":false},"axis":{"title":"Binding energy (eV)","values":[735,730,725,720,715,710,705],"labelFontSize":14,"tickSize":3,"labelPadding":3,"titleFontSize":15,"titlePadding":1}},
  "y":{"field":"y","type":"quantitative","scale":{"domain":[0,229],"nice":false,"zero":false},"axis":{"title":"Intensity (a.u.)","labels":false,"ticks":false,"titleFontSize":15,"titlePadding":5}}
 },
 "layer":[
  {"data":{"name":"C"},"transform":[{"filter":{"field":"s","oneOf":["rGO raw","CF raw"]}}],"mark":{"type":"line","strokeWidth":2.8,"color":"#ffff55","clip":true},"encoding":{"detail":{"field":"s"}}},
  {"data":{"name":"C"},"transform":[{"filter":{"field":"s","oneOf":["rGO bg","rGO sat","rGO p12","rGO fe3","rGO sat712","rGO p32","CF p12","CF fe3","CF p32"]}}],"mark":{"type":"line","strokeWidth":1.6,"clip":true},
   "encoding":{"color":{"field":"s","type":"nominal","scale":{"domain":["rGO bg","rGO sat","rGO p12","rGO fe3","rGO sat712","rGO p32","CF p12","CF fe3","CF p32","rGO fit","CF fit"],"range":["#6b3b2b","#2ea04f","#a070e0","#cf9a14","#6b3b2b","#22c3c3","#2ea04f","#a070e0","#cf9a14","#000080","#ff0000"]},"legend":null}}},
  {"data":{"name":"C"},"transform":[{"filter":{"field":"s","oneOf":["rGO fit","CF fit"]}}],"mark":{"type":"line","strokeWidth":2,"clip":true},
   "encoding":{"color":{"field":"s","type":"nominal","legend":null}}},
  {"data":{"values":[{"x":722.6,"y":222.3,"k":"a"},{"x":722.6,"y":92.3,"k":"a"},{"x":708.8,"y":224,"k":"b"},{"x":708.8,"y":95.7,"k":"b"}]},
   "mark":{"type":"line","strokeWidth":1.3,"strokeDash":[2,2],"color":"#0000ff"},"encoding":{"detail":{"field":"k"}}},
  {"data":{"values":[{"x":722.6,"y":116.5},{"x":708.8,"y":116.5}]},
   "mark":{"type":"line","strokeWidth":1.5,"strokeDash":[2,2],"color":"#ff00ff"},"encoding":{}},
  {"data":{"values":[{"x":717.05,"y":222,"t":"Fe2p"}]},
   "mark":{"type":"text","fontSize":15,"color":"#000","align":"center","baseline":"middle"},"encoding":{"text":{"field":"t"}}},
  {"data":{"values":[{"x":703.06,"y":222,"t":"CF/rGO"}]},
   "mark":{"type":"text","fontSize":14,"color":"#000080","align":"right","baseline":"middle"},"encoding":{"text":{"field":"t"}}},
  {"data":{"values":[{"x":716,"y":197.3,"t":"Fe⁺³"},{"x":716.2,"y":90.7,"t":"Fe⁺³"}]},
   "mark":{"type":"text","fontSize":13,"color":"#ff0000","align":"center","baseline":"middle"},"encoding":{"text":{"field":"t"}}},
  {"data":{"values":[{"x":721.74,"y":134,"t":"Fe2p"},{"x":708.1,"y":129,"t":"Fe2p"}]},
   "mark":{"type":"text","fontSize":14,"color":"#ff0000","align":"right","baseline":"middle"},"encoding":{"text":{"field":"t"}}},
  {"data":{"values":[{"x":721.74,"y":134,"t":"1/2"},{"x":708.1,"y":129,"t":"3/2"}]},
   "mark":{"type":"text","fontSize":9.5,"color":"#ff0000","align":"left","baseline":"middle","dy":4},"encoding":{"text":{"field":"t"}}},
  {"data":{"values":[{"x":715.53,"y":127.5,"t":"13 eV (Fe⁺³)"}]},
   "mark":{"type":"text","fontSize":15,"color":"#ff00ff","align":"center","baseline":"middle"},"encoding":{"text":{"field":"t"}}},
  {"data":{"values":[{"x":704.9,"y":74,"t":"CF"}]},
   "mark":{"type":"text","fontSize":17,"color":"#ff0000","align":"center","baseline":"middle"},"encoding":{"text":{"field":"t"}}},
  {"data":{"values":[{"x":735,"y":229,"t":"(C)"}]},
   "mark":{"type":"text","fontSize":14,"color":"#000","align":"right","baseline":"top","dx":-1,"dy":2},"encoding":{"text":{"field":"t"}}}
 ]},
{"width":335,"height":224,
 "encoding":{
  "x":{"field":"x","type":"quantitative","scale":{"domain":[534,524.55],"nice":false,"zero":false},"axis":{"title":"Binding energy (eV)","values":[534,532,530,528,526],"labelFontSize":13,"tickSize":3,"labelPadding":3,"titleFontSize":15,"titlePadding":4}},
  "y":{"field":"y","type":"quantitative","scale":{"domain":[0,224],"nice":false,"zero":false},"axis":{"title":"Intensity (a.u.)","labels":false,"ticks":false,"titleFontSize":15,"titlePadding":5}}
 },
 "layer":[
  {"data":{"name":"D"},"transform":[{"filter":{"field":"s","oneOf":["rGO bg","rGO c3","rGO oh","rGO o2","CF bg","CF oh","CF o2"]}}],"mark":{"type":"line","strokeWidth":1.6,"clip":true},
   "encoding":{"color":{"field":"s","type":"nominal","scale":{"domain":["rGO bg","rGO c3","rGO oh","rGO o2","CF bg","CF oh","CF o2","rGO fit","CF fit"],"range":["#2a62c9","#cf9a14","#2ea04f","#a070e0","#2a62c9","#2ea04f","#a070e0","#ff00ff","#ff0000"]},"legend":null}}},
  {"data":{"name":"D"},"transform":[{"filter":{"field":"s","oneOf":["rGO fit","CF fit"]}}],"mark":{"type":"line","strokeWidth":2,"clip":true},
   "encoding":{"color":{"field":"s","type":"nominal","legend":null}}},
  {"data":{"name":"D"},"transform":[{"filter":{"field":"s","oneOf":["rGO raw","CF raw"]}}],"mark":{"type":"circle","size":5,"opacity":0.9,"color":"#555555","clip":true},"encoding":{}},
  {"data":{"values":[{"x":524.65,"y":219,"t":"O1s"}]},
   "mark":{"type":"text","fontSize":14,"color":"#000","align":"right","baseline":"middle"},"encoding":{"text":{"field":"t"}}},
  {"data":{"values":[{"x":529.55,"y":205.3,"t":"OH⁻/H₂O"},{"x":527.15,"y":220,"t":"O⁻²"}]},
   "mark":{"type":"text","fontSize":14,"color":"#ff00ff","align":"center","baseline":"middle"},"encoding":{"text":{"field":"t"}}},
  {"data":{"values":[{"x":525.55,"y":155.3,"t":"CF/rGO"}]},
   "mark":{"type":"text","fontSize":16,"color":"#ff00ff","align":"center","baseline":"middle"},"encoding":{"text":{"field":"t"}}},
  {"data":{"values":[{"x":529.72,"y":103.7,"t":"OH⁻/H₂O"},{"x":527.15,"y":105.7,"t":"O⁻²"}]},
   "mark":{"type":"text","fontSize":14,"color":"#ff0000","align":"center","baseline":"middle"},"encoding":{"text":{"field":"t"}}},
  {"data":{"values":[{"x":525.13,"y":40.3,"t":"CF"}]},
   "mark":{"type":"text","fontSize":17,"color":"#ff0000","align":"center","baseline":"middle"},"encoding":{"text":{"field":"t"}}},
  {"data":{"values":[{"x":534,"y":224,"t":"(D)"}]},
   "mark":{"type":"text","fontSize":14,"color":"#000","align":"right","baseline":"top","dx":-1,"dy":2},"encoding":{"text":{"field":"t"}}}
 ]}
],"spacing":0,"resolve":{"scale":{"color":"independent"}}}
]
}
